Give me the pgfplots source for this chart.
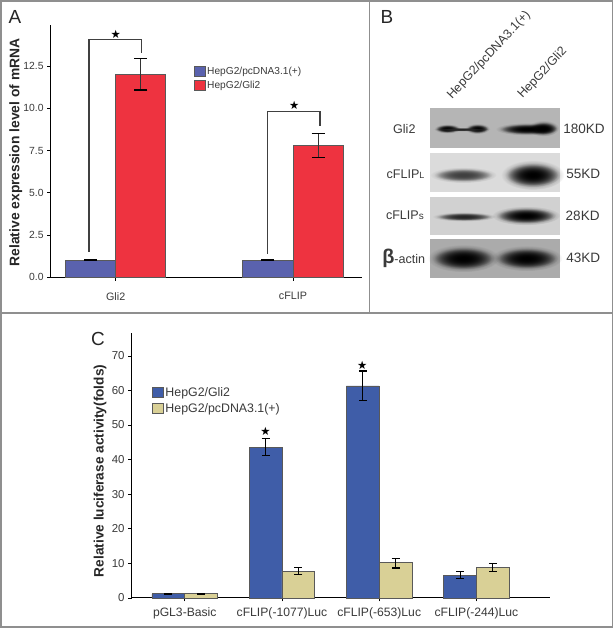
\documentclass[border=0pt]{standalone}
\usepackage{pgfplots}
\pgfplotsset{compat=1.18}
\usepackage{fontspec}
\setmainfont{Liberation Sans}
\newfontfamily\djv{DejaVu Sans}
\usetikzlibrary{fadings}
\tikzfading[name=blob, inner color=transparent!0, outer color=transparent!100]
\definecolor{txt}{HTML}{3A3A3A}
\definecolor{ablue}{HTML}{5A62AE}
\definecolor{ared}{HTML}{EE3340}
\definecolor{cblue}{HTML}{3F5DA8}
\definecolor{ctan}{HTML}{D9D096}
\definecolor{frame}{HTML}{8F8F8F}
\newcommand{\band}[5]{%
  \fill[#5, path fading=blob, opacity=.75] (#1,#2) ellipse [x radius=#3*1.25, y radius=#4*1.6];
  \fill[#5, path fading=blob] (#1,#2) ellipse [x radius=#3*1.1, y radius=#4*1.3];
  \fill[#5, path fading=blob] (#1,#2) ellipse [x radius=#3*1.0, y radius=#4*1.1];
}
\pgfplotsset{
  panel/.style={
    scale only axis, axis x line=bottom, axis y line=left,
    axis line style={-, black, line width=1bp},
    tick style={black, line width=.7bp}, tick align=outside,
    major tick length=3.5bp, ymin=0, clip=false,
    tick label style={font=\fontsize{10.4}{12}\selectfont, text=txt},
    /pgf/number format/assume math mode=true,
    legend cell align=left,
    legend style={draw=none, fill=none, anchor=north west, font=\fontsize{10.2}{11}\selectfont, text=txt,
      inner sep=0pt, row sep=1.5bp},
    legend image code/.code={\draw[##1, line width=.7bp] (0bp,-4.8bp) rectangle (10.5bp,5bp);},
  },
  barA/.style={ybar, bar width=50.2bp, bar shift=0pt, draw=black!65, line width=.8bp,
    error bars/y dir=both, error bars/y explicit,
    error bars/error bar style={black!80, line width=.8bp},
    error bars/error mark options={rotate=90, mark size=6.5bp, line width=1.2bp, black}},
  barC/.style={ybar, bar width=32.8bp, bar shift=0pt, draw=black!65, line width=.8bp,
    error bars/y dir=both, error bars/y explicit,
    error bars/error bar style={black, line width=.9bp},
    error bars/error mark options={rotate=90, mark size=4bp, line width=1.2bp, black}},
}
\begin{document}
\begin{tikzpicture}[x=1bp,y=1bp]
\fill[white] (0,0) rectangle (614,628);
\draw[frame, line width=1.5bp] (1,1) rectangle (612.7,627);
\draw[frame, line width=1.2bp] (1,315) -- (612.7,315);
\draw[frame, line width=1.2bp] (369.5,315) -- (369.5,627);

% Panel A
\begin{axis}[panel, at={(50.6bp,350.7bp)}, anchor=south west,
  width=311.4bp, height=252.3bp,
  xmin=-0.367, xmax=1.389, ymax=14.93,
  xtick={0,1}, xticklabels={Gli2,cFLIP},
  xticklabel style={yshift=-8bp, font=\fontsize{10.8}{12}\selectfont},
  ytick={0,2.5,5,7.5,10,12.5},
  yticklabel style={/pgf/number format/fixed, /pgf/number format/fixed zerofill, /pgf/number format/precision=1},
  ylabel={\textbf{Relative expression level of mRNA}},
  every axis y label/.style={at={(rel axis cs:-0.112,0.495)}, rotate=90, anchor=center, font=\fontsize{13.9}{15}\selectfont, text=black!85},
  legend style={at={(rel axis cs:0.46,0.843)}},
]
\addplot[barA, fill=ablue] coordinates {(-0.1416,1) += (0,0.02) -= (0,0.02) (0.8584,1) += (0,0.02) -= (0,0.02)};
\addlegendentry{HepG2/pcDNA3.1(+)}
\addplot[barA, fill=ared] coordinates {(0.1416,12) += (0,0.96) -= (0,0.92) (1.1416,7.8) += (0,0.7) -= (0,0.7)};
\addlegendentry{HepG2/Gli2}
\addplot[forget plot, black!75, line width=1.1bp] coordinates {(-0.1506,1.51) (-0.1506,14.08) (0.1466,14.08) (0.1466,13.25)};
\addplot[forget plot, black!75, line width=1.1bp] coordinates {(0.855,1.38) (0.855,9.82) (1.152,9.82) (1.152,8.95)};
\node[font=\djv\fontsize{11.5}{12}\selectfont] at (axis cs:0,14.4) {★};
\node[font=\djv\fontsize{11.5}{12}\selectfont] at (axis cs:1.007,10.18) {★};
\end{axis}

% Panel C
\begin{axis}[panel, at={(131.6bp,30bp)}, anchor=south west,
  width=418.4bp, height=265.3bp,
  xmin=-0.547, xmax=3.757, ymax=76.7,
  xtick={0,1,2,3}, xticklabels={pGL3-Basic,cFLIP(-1077)Luc,cFLIP(-653)Luc,cFLIP(-244)Luc},
  xticklabel style={yshift=-3bp, font=\fontsize{12.2}{13}\selectfont},
  yticklabel style={font=\fontsize{11.5}{13}\selectfont},
  ylabel={\textbf{Relative luciferase activity(folds)}},
  every axis y label/.style={at={(rel axis cs:-0.0755,0.479)}, rotate=90, anchor=center, font=\fontsize{13.7}{15}\selectfont, text=black!85},
  legend style={at={(rel axis cs:0.049,0.803)}, font=\fontsize{12.4}{13}\selectfont, row sep=2bp},
]
\addplot[barC, fill=cblue] coordinates {(-0.1687,1.2) += (0,0.1) -= (0,0.1) (0.8313,43.5) += (0,2.6) -= (0,2.4) (1.8313,61.3) += (0,4.3) -= (0,4.1) (2.8313,6.6) += (0,1) -= (0,1)};
\addlegendentry{HepG2/Gli2}
\addplot[barC, fill=ctan] coordinates {(0.1687,1.2) += (0,0.1) -= (0,0.1) (1.1687,7.8) += (0,1) -= (0,0.9) (2.1687,10.2) += (0,1.3) -= (0,1.5) (3.1687,8.9) += (0,1.1) -= (0,1.2)};
\addlegendentry{HepG2/pcDNA3.1(+)}
\node[font=\djv\fontsize{11.5}{12}\selectfont] at (axis cs:0.83,48.2) {★};
\node[font=\djv\fontsize{11.5}{12}\selectfont] at (axis cs:1.825,67.3) {★};
\end{axis}

% panel letters
\begin{scope}[shift={(0,628)}, y=-1bp]
\node[font=\fontsize{19}{20}\selectfont, text=black!85] at (15,16.5) {A};
\node[font=\fontsize{19}{20}\selectfont, text=black!85] at (387,16.7) {B};
\node[font=\fontsize{19}{20}\selectfont, text=black!85] at (98,339) {C};
\end{scope}

% Panel B, in the coordinates of a 3x crop
\begin{scope}[shift={(370,628)}, x=0.3333bp, y=-0.3333bp]
\fill[black!29] (181,325) rectangle (569,445);
\fill[black!14] (181,460) rectangle (569,575);
\fill[black!18] (181,590) rectangle (569,704);
\fill[black!33] (181,718) rectangle (569,833);
\band{232}{386}{32}{9}{black}
\band{322}{386}{30}{10}{black}
\band{275}{388}{70}{4}{black!85}
\band{470}{387}{75}{12}{black}
\band{520}{385}{38}{15}{black}
\band{280}{525}{80}{15}{black!75}
\band{488}{525}{76}{28}{black}
\band{282}{650}{76}{9}{black!85}
\band{468}{647}{82}{18}{black}
\band{280}{775}{86}{26}{black}
\band{470}{775}{86}{24}{black}
\node[rotate=47, anchor=west, font=\fontsize{12.5}{13}\selectfont, text=txt] at (232,300) {HepG2/pcDNA3.1(+)};
\node[rotate=47, anchor=west, font=\fontsize{12.5}{13}\selectfont, text=txt] at (444,298) {HepG2/Gli2};
\node[font=\fontsize{12.6}{14}\selectfont, text=txt] at (103,388) {Gli2};
\node[font=\fontsize{12.6}{14}\selectfont, text=txt, anchor=east] at (174,523) {cFLIP\fontsize{9}{10}\selectfont L};
\node[font=\fontsize{12.6}{14}\selectfont, text=txt, anchor=east] at (172,645) {cFLIP\fontsize{10}{10}\selectfont s};
\node[font=\fontsize{12.6}{14}\selectfont, text=txt, anchor=east] at (176,776) {{\fontsize{20}{20}\selectfont\textbf{β}}-actin};
\node[font=\fontsize{13.6}{14}\selectfont, text=txt] at (642,387) {180KD};
\node[font=\fontsize{13.6}{14}\selectfont, text=txt] at (640,522) {55KD};
\node[font=\fontsize{13.6}{14}\selectfont, text=txt] at (638,647) {28KD};
\node[font=\fontsize{13.6}{14}\selectfont, text=txt] at (640,775) {43KD};
\end{scope}
\path (0,0) rectangle (614,628);
\end{tikzpicture}
\end{document}
